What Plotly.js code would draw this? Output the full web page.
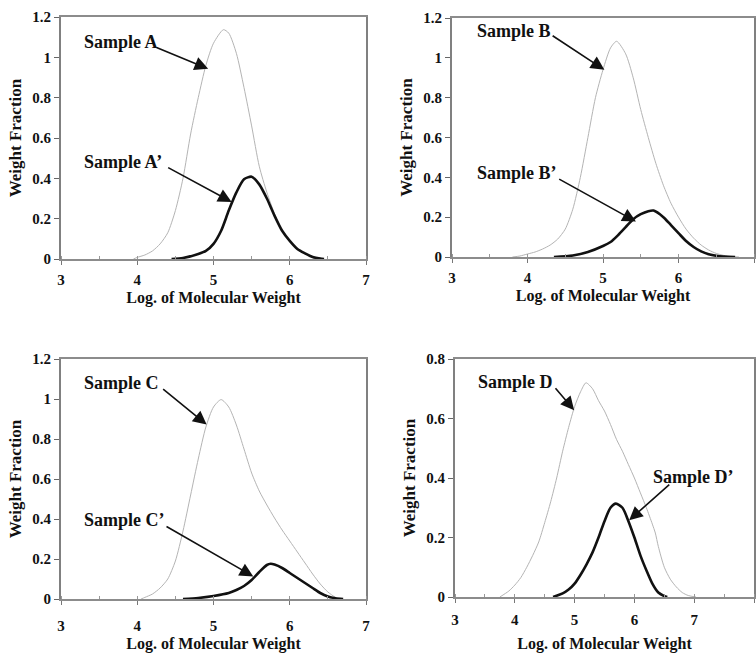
<!DOCTYPE html>
<html>
<head>
<meta charset="utf-8">
<script src="https://cdn.plot.ly/plotly-3.0.1.min.js"></script>
<style>html,body{margin:0;padding:0;background:#fff;} #chart{width:756px;height:653px;}</style>
</head>
<body>
<div id="chart"></div>
<script>
// ---- Data ----
const sampleA_x = [3.95, 4.0, 4.1, 4.2, 4.3, 4.4, 4.5, 4.6, 4.7, 4.8, 4.9, 5.0, 5.13, 5.2, 5.3, 5.4, 5.5, 5.6, 5.7, 5.8, 5.9, 6.0, 6.1, 6.2, 6.3, 6.4, 6.45];
const sampleA_y = [0, 0.008, 0.02, 0.04, 0.075, 0.13, 0.24, 0.4, 0.62, 0.8, 0.96, 1.07, 1.137, 1.12, 1.02, 0.85, 0.66, 0.46, 0.33, 0.225, 0.14, 0.09, 0.05, 0.028, 0.01, 0.003, 0];
const sampleA2_x = [4.45, 4.6, 4.8, 4.9, 5.0, 5.1, 5.2, 5.3, 5.4, 5.5, 5.6, 5.7, 5.8, 5.9, 6.0, 6.1, 6.2, 6.3, 6.4, 6.45];
const sampleA2_y = [0, 0.005, 0.025, 0.04, 0.075, 0.14, 0.24, 0.33, 0.395, 0.408, 0.37, 0.3, 0.215, 0.14, 0.09, 0.05, 0.028, 0.01, 0.002, 0];

const sampleB_x = [3.8, 3.9, 4.0, 4.1, 4.2, 4.3, 4.4, 4.5, 4.6, 4.7, 4.8, 4.9, 5.0, 5.1, 5.18, 5.3, 5.4, 5.5, 5.6, 5.7, 5.8, 5.9, 6.0, 6.1, 6.2, 6.3, 6.4, 6.5, 6.6, 6.7, 6.8];
const sampleB_y = [0, 0.005, 0.015, 0.025, 0.04, 0.06, 0.09, 0.14, 0.24, 0.4, 0.6, 0.8, 0.94, 1.05, 1.083, 1.02, 0.9, 0.74, 0.6, 0.47, 0.36, 0.27, 0.2, 0.14, 0.095, 0.06, 0.035, 0.018, 0.008, 0.002, 0];
const sampleB2_x = [4.35, 4.6, 4.8, 5.0, 5.1, 5.2, 5.3, 5.4, 5.5, 5.6, 5.67, 5.8, 5.9, 6.0, 6.1, 6.2, 6.3, 6.4, 6.5, 6.6, 6.75];
const sampleB2_y = [0, 0.008, 0.025, 0.055, 0.075, 0.11, 0.15, 0.19, 0.215, 0.23, 0.233, 0.2, 0.16, 0.12, 0.08, 0.05, 0.028, 0.014, 0.006, 0.002, 0];

const sampleC_x = [4.05, 4.1, 4.2, 4.3, 4.4, 4.5, 4.6, 4.7, 4.8, 4.9, 5.0, 5.1, 5.2, 5.3, 5.4, 5.5, 5.6, 5.7, 5.8, 5.9, 6.0, 6.1, 6.2, 6.3, 6.4, 6.5, 6.6, 6.65];
const sampleC_y = [0, 0.008, 0.025, 0.055, 0.1, 0.19, 0.34, 0.52, 0.7, 0.86, 0.96, 0.997, 0.96, 0.87, 0.75, 0.63, 0.54, 0.47, 0.405, 0.345, 0.29, 0.235, 0.18, 0.125, 0.075, 0.035, 0.008, 0];
const sampleC2_x = [4.6, 4.8, 5.0, 5.2, 5.3, 5.4, 5.5, 5.6, 5.7, 5.75, 5.8, 5.9, 6.0, 6.1, 6.2, 6.3, 6.4, 6.5, 6.6, 6.7];
const sampleC2_y = [0, 0.005, 0.015, 0.03, 0.045, 0.065, 0.095, 0.135, 0.17, 0.176, 0.172, 0.155, 0.13, 0.105, 0.08, 0.055, 0.03, 0.013, 0.004, 0];

const sampleD_x = [3.75, 3.9, 4.0, 4.1, 4.2, 4.3, 4.4, 4.5, 4.6, 4.7, 4.8, 4.9, 5.0, 5.1, 5.19, 5.3, 5.4, 5.5, 5.6, 5.7, 5.8, 5.9, 6.0, 6.1, 6.2, 6.3, 6.35, 6.4, 6.5, 6.6, 6.7, 6.8, 6.9, 7.03];
const sampleD_y = [0, 0.02, 0.04, 0.065, 0.1, 0.14, 0.185, 0.25, 0.32, 0.4, 0.49, 0.57, 0.64, 0.69, 0.72, 0.7, 0.66, 0.625, 0.58, 0.53, 0.49, 0.445, 0.4, 0.35, 0.3, 0.245, 0.215, 0.17, 0.1, 0.06, 0.034, 0.015, 0.005, 0];
const sampleD2_x = [4.64, 4.8, 4.9, 5.0, 5.1, 5.2, 5.3, 5.4, 5.5, 5.6, 5.69, 5.8, 5.9, 6.0, 6.1, 6.2, 6.3, 6.4, 6.5, 6.55];
const sampleD2_y = [0, 0.012, 0.025, 0.045, 0.075, 0.11, 0.15, 0.2, 0.255, 0.3, 0.314, 0.3, 0.255, 0.2, 0.14, 0.09, 0.045, 0.015, 0.003, 0];

const seriesNames = ["Sample A", "Sample A\u2019", "Sample B", "Sample B\u2019", "Sample C", "Sample C\u2019", "Sample D", "Sample D\u2019"];
const xTitle = "Log. of Molecular Weight";
const yTitle = "Weight Fraction";

// ---- Styling ----
const FONT = "Liberation Serif, Times New Roman, serif";
const greyLine = {color: "#b4b4b4", width: 1};
const blackLine = {color: "#111", width: 2.6};

function pair(xs, ys, xa, ya, style, name) {
  return {x: xs, y: ys, xaxis: xa, yaxis: ya, type: "scatter", mode: "lines",
          line: Object.assign({shape: "spline", smoothing: 0.7}, style), name: name, hoverinfo: "skip"};
}
const traces = [
  pair(sampleA_x, sampleA_y, "x", "y", greyLine, seriesNames[0]),
  pair(sampleA2_x, sampleA2_y, "x", "y", blackLine, seriesNames[1]),
  pair(sampleB_x, sampleB_y, "x2", "y2", greyLine, seriesNames[2]),
  pair(sampleB2_x, sampleB2_y, "x2", "y2", blackLine, seriesNames[3]),
  pair(sampleC_x, sampleC_y, "x3", "y3", greyLine, seriesNames[4]),
  pair(sampleC2_x, sampleC2_y, "x3", "y3", blackLine, seriesNames[5]),
  pair(sampleD_x, sampleD_y, "x4", "y4", greyLine, seriesNames[6]),
  pair(sampleD2_x, sampleD2_y, "x4", "y4", blackLine, seriesNames[7])
];

const W = 756, H = 653;
function xd(a, b) { return [a / W, b / W]; }
function yd(top, bottom) { return [1 - bottom / H, 1 - top / H]; }

function xAxis(dom, range, anchor, labelGap, titleGap) {
  return {domain: dom, range: range, anchor: anchor, dtick: 1, tick0: 3,
    showgrid: false, zeroline: false, showline: true, mirror: true, linecolor: "#8c8c8c", linewidth: 2,
    ticks: "outside", ticklen: 4, tickcolor: "#777", tickwidth: 1, ticklabelstandoff: labelGap,
    minor: {dtick: 0.5, ticks: "inside", ticklen: 3, tickcolor: "#999", showgrid: false},
    tickfont: {family: FONT, size: 15, color: "#111", weight: "bold"},
    title: {text: xTitle, font: {family: FONT, size: 16, color: "#111", weight: "bold"}, standoff: titleGap},
    fixedrange: true};
}
function yAxis(dom, range, dt, anchor) {
  return {domain: dom, range: range, anchor: anchor, dtick: dt, tick0: 0,
    showgrid: false, zeroline: false, showline: true, mirror: true, linecolor: "#808080", linewidth: 2,
    ticks: "outside", ticklen: 5, tickcolor: "#666", tickwidth: 1,
    tickfont: {family: FONT, size: 15, color: "#111", weight: "bold"},
    title: {text: yTitle, font: {family: FONT, size: 17, color: "#111", weight: "bold"}, standoff: 6},
    fixedrange: true};
}

const annFont = {family: FONT, size: 18, color: "#111", weight: "bold"};
function label(xr, yr, x, y, text) {
  return {xref: xr, yref: yr, x: x, y: y, text: text, showarrow: false, xanchor: "left", yanchor: "middle", font: annFont};
}
function arrow(xr, yr, tx, ty, hx, hy) {
  return {xref: xr, yref: yr, axref: xr, ayref: yr, x: hx, y: hy, ax: tx, ay: ty, text: "",
    showarrow: true, arrowhead: 2, arrowsize: 1.7, arrowwidth: 1.6, arrowcolor: "#111", standoff: 0, startstandoff: 0};
}

const layout = {
  width: W, height: H, margin: {l: 0, r: 0, t: 0, b: 0},
  paper_bgcolor: "#fff", plot_bgcolor: "#fff", showlegend: false,
  font: {family: FONT, color: "#111"},
  xaxis: xAxis(xd(61, 366), [3, 7], "y", 2, 5),
  yaxis: yAxis(yd(17, 259), [0, 1.2], 0.2, "x"),
  xaxis2: xAxis(xd(452, 754), [3, 7], "y2", 2, 5),
  yaxis2: yAxis(yd(18, 257), [0, 1.2], 0.2, "x2"),
  xaxis3: xAxis(xd(61, 366), [3, 7], "y3", 8, 10),
  yaxis3: yAxis(yd(359, 599), [0, 1.2], 0.2, "x3"),
  xaxis4: xAxis(xd(455, 754), [3, 8], "y4", 4, 14),
  yaxis4: yAxis(yd(359, 597), [0, 0.8], 0.2, "x4"),
  annotations: [
    label("x", "y", 3.27, 1.078, seriesNames[0]),
    arrow("x", "y", 4.233, 1.052, 4.93, 0.943),
    label("x", "y", 3.27, 0.482, seriesNames[1]),
    arrow("x", "y", 4.386, 0.457, 5.238, 0.283),

    label("x2", "y2", 3.30, 1.133, seriesNames[2]),
    arrow("x2", "y2", 4.313, 1.116, 5.018, 0.94),
    label("x2", "y2", 3.30, 0.42, seriesNames[3]),
    arrow("x2", "y2", 4.40, 0.395, 5.436, 0.178),

    label("x3", "y3", 3.27, 1.08, seriesNames[4]),
    arrow("x3", "y3", 4.32, 1.055, 4.91, 0.872),
    label("x3", "y3", 3.27, 0.397, seriesNames[5]),
    arrow("x3", "y3", 4.364, 0.367, 5.522, 0.113),

    label("x4", "y4", 3.351, 0.724, seriesNames[6]),
    arrow("x4", "y4", 4.659, 0.707, 4.993, 0.628),
    label("x4", "y4", 6.274, 0.404, seriesNames[7]),
    arrow("x4", "y4", 6.608, 0.382, 5.912, 0.258)
  ]
};

Plotly.newPlot("chart", traces, layout, {displayModeBar: false, staticPlot: true});
</script>
</body>
</html>
